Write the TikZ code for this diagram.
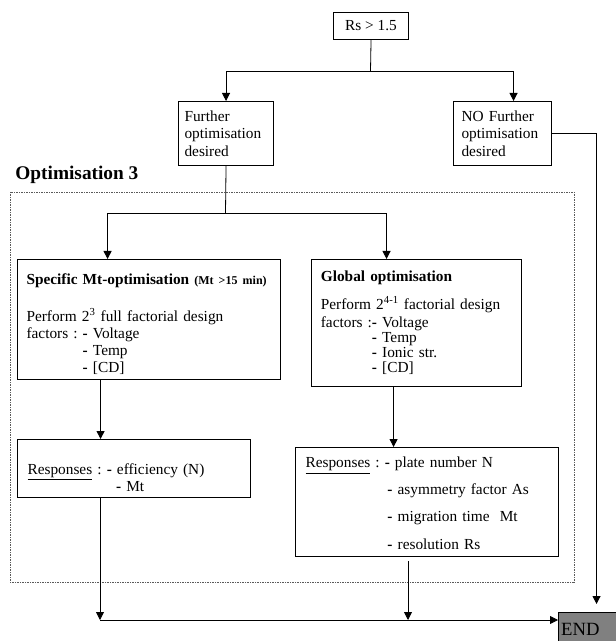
\documentclass[tikz,border=0pt]{standalone}
\usepackage{fontspec}
\setmainfont{Liberation Serif}
\usetikzlibrary{arrows.meta}
\definecolor{endGray}{RGB}{128,128,128}
\definecolor{dotGray}{RGB}{90,90,90}

\begin{document}
\begin{tikzpicture}[
    x=0.75pt, y=-0.75pt,
    font=\fontsize{11.5}{13.3}\selectfont\frenchspacing,
    line width=0.6pt,
    flowbox/.style={
        draw=black,
        line width=0.8pt,
        anchor=north west,
        align=left,
        inner ysep=0pt
    },
    arr/.style={
        -{Triangle[length=6pt,width=6pt]}
    }
]
    \useasboundingbox (0,0) rectangle (616,641);

    % Decision and the two branches
    \node[flowbox, align=center, minimum width=56.25pt, minimum height=20.25pt, inner xsep=0pt] (rs) at (333,12) {Rs > 1.5};
    \node[flowbox, text width=62.25pt, inner xsep=4.5pt, minimum height=48pt] (further) at (178,101)
        {Further\\optimisation\\desired};
    \node[flowbox, text width=61.5pt, inner xsep=6pt, minimum height=48pt] (nofur) at (453,101)
        {NO Further\\optimisation\\desired};

    % Optimisation 3 frame
    \node[anchor=base west, inner sep=0pt, font=\fontsize{14.5}{17}\selectfont\bfseries] (optlabel) at (15,180) {Optimisation 3};
    \draw[dotGray, line width=0.5pt, dash pattern=on 0.5pt off 0.75pt] (10,192) rectangle (574,582);

    \node[flowbox, text width=183.75pt, inner xsep=6.75pt, minimum height=90pt] (spec) at (17,259)
        {\rule{0pt}{15pt}\textbf{Specific Mt-optimisation} {\fontsize{9}{10}\selectfont\textbf{(Mt >15 min)}}\\[14.4pt]
         Perform 2\textsuperscript{3} full factorial design\\[-0.5pt]
         factors : \textbf{-} Voltage\\[-0.5pt]
         \phantom{factors : }\textbf{-} Temp\\[-0.5pt]
         \phantom{factors : }\textbf{-} [CD]};
    \node[flowbox, text width=143.5pt, inner xsep=7pt, minimum height=95.25pt] (glob) at (311,259)
        {\textbf{Global optimisation}\\[7.7pt]
         Perform 2\textsuperscript{4-1} factorial design\\[0.2pt]
         factors :\textbf{-} Voltage\\[-2pt]
         \phantom{factors :}\textbf{-} Temp\\[-2pt]
         \phantom{factors :}\textbf{-} Ionic str.\\[-2pt]
         \phantom{factors :}\textbf{-} [CD]};

    \node[flowbox, text width=159.75pt, inner xsep=7.5pt, minimum height=41.25pt] (resp1) at (17,439)
        {\rule{0pt}{26pt}\underline{Responses} : \textbf{-} efficiency (N)\\[-0.5pt]
         \phantom{\underline{Responses} : }\hspace{7pt}\textbf{-} Mt};
    \node[flowbox, text width=182.25pt, inner xsep=7.5pt, minimum height=81.75pt] (resp2) at (295,447)
        {\rule{0pt}{14pt}\underline{Responses} : \textbf{-} plate number N\\[7pt]
         \phantom{\underline{Responses} : }\hspace{2pt}\textbf{-} asymmetry factor As\\[7pt]
         \phantom{\underline{Responses} : }\hspace{2pt}\textbf{-} migration time\ \ Mt\\[7pt]
         \phantom{\underline{Responses} : }\hspace{2pt}\textbf{-} resolution Rs};

    \node[flowbox, fill=endGray, text width=53pt, inner xsep=2pt, minimum height=25.5pt, font=\fontsize{14}{16}\selectfont] (endbox) at (558,612) {END};

    % Connectors
    \coordinate (j1) at (370.5,71);
    \draw (rs.south) -- (j1);
    \draw[arr] (j1) -| (further.north);
    \draw[arr] (j1) -| ([xshift=8.25pt]nofur.north);

    \coordinate (j2) at (225.5,213);
    \draw (further.south) -- (j2);
    \draw[arr] (j2) -| ([xshift=-31.1pt]spec.north);
    \draw[arr] (j2) -| ([xshift=-22.5pt]glob.north);

    \coordinate (t1) at ([xshift=-25.1pt]resp1.north);
    \draw[arr] (spec.south -| t1) -- (t1);
    \coordinate (t2) at ([xshift=-25.1pt]resp2.north);
    \draw[arr] (glob.south -| t2) -- (t2);

    \coordinate (b1) at (100,620);
    \coordinate (b2) at (408,620);
    \draw[arr] (resp1.south -| b1) -- (b1);
    \draw[arr, shorten <=3pt] (resp2.south -| b2) -- (b2);
    \draw[arr] (b1) -- (b1 -| endbox.west);
    \draw[arr, shorten >=6pt] (nofur.east) -| (endbox.north);
\end{tikzpicture}
\end{document}
